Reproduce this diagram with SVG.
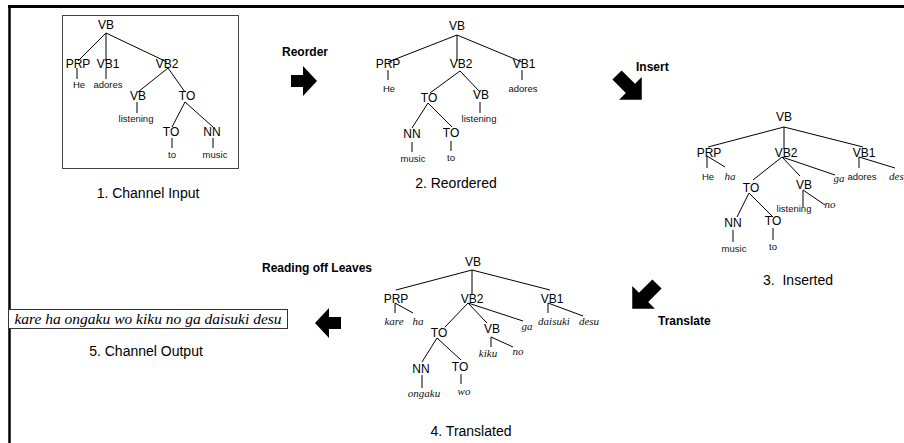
<svg xmlns="http://www.w3.org/2000/svg" width="904" height="443" viewBox="0 0 904 443">
<style>
.n{font-family:"Liberation Sans",Arial,sans-serif;font-size:12px;text-anchor:middle;fill:#000}
.w{font-family:"Liberation Sans Narrow","Liberation Sans",Arial,sans-serif;font-size:9.5px;text-anchor:middle;fill:#111}
.j{font-family:"Liberation Serif","Times New Roman",serif;font-style:italic;font-size:11px;text-anchor:middle;fill:#111}
.b{font-family:"Liberation Sans",Arial,sans-serif;font-weight:bold;font-size:12px;fill:#000}
.c{font-family:"Liberation Sans",Arial,sans-serif;font-size:14px;text-anchor:middle;fill:#000}
.e{stroke:#000;stroke-width:1;fill:none}
</style>
<defs>
<path id="harrow" d="M0,-6 H12 V-15 L26,0 L12,15 V6 H0 Z" fill="#000"/>
<path id="darrow" d="M0,-6.5 H19 V-16 L35,0 L19,16 V6.5 H0 Z" fill="#000"/>
</defs>
<rect width="904" height="443" fill="#fff"/>
<g id="frame">
<line x1="8" y1="6.5" x2="904" y2="6.5" stroke="#000" stroke-width="3"/>
<line x1="9.5" y1="5" x2="9.5" y2="443" stroke="#000" stroke-width="2.5"/>
</g>

<g id="tree1">
<rect x="62.5" y="15.5" width="176" height="153" fill="none" stroke="#444" stroke-width="1"/>
<g class="e">
<path d="M106,33 L78,61 M106,33 V61 M106,33 L167,62"/>
<path d="M77,68 V79 M106,68 V79"/>
<path d="M168,68 L138,92 M168,68 L185,92"/>
<path d="M137,102 V113"/>
<path d="M185,102 L172,127 M185,102 L213,127"/>
<path d="M172,138 V148 M213,138 V148"/>
</g>
<text id="t1-VB" class="n" x="106" y="29">VB</text>
<text id="t1-PRP" class="n" x="78" y="68">PRP</text>
<text id="t1-VB1" class="n" x="108" y="68">VB1</text>
<text id="t1-VB2" class="n" x="167" y="68">VB2</text>
<text id="t1-He" class="w" x="79" y="88">He</text>
<text id="t1-adores" class="w" x="108" y="88">adores</text>
<text id="t1-VBb" class="n" x="138" y="100">VB</text>
<text id="t1-TO" class="n" x="187" y="100">TO</text>
<text id="t1-listening" class="w" x="136" y="122">listening</text>
<text id="t1-TOb" class="n" x="171" y="136">TO</text>
<text id="t1-NN" class="n" x="212" y="136">NN</text>
<text id="t1-to" class="w" x="172" y="158">to</text>
<text id="t1-music" class="w" x="215" y="158">music</text>
<text id="cap1" class="c" x="148" y="198">1. Channel Input</text>
</g>

<g id="reorder">
<text class="b" x="282" y="56">Reorder</text>
<use href="#harrow" x="0" y="0" transform="translate(291,81)"/>
</g>

<g id="tree2">
<g class="e">
<path d="M457,35 L388,62 M457,35 V61 M457,35 L522,62"/>
<path d="M388,70 V80 M522,70 V80"/>
<path d="M460,71 L430,93 M460,71 L480,92"/>
<path d="M480,102 V113"/>
<path d="M428,103 L412,128 M428,103 L452,127"/>
<path d="M412,142 V152 M451,141 V151"/>
</g>
<text id="t2-VB" class="n" x="457" y="30">VB</text>
<text id="t2-PRP" class="n" x="388" y="68">PRP</text>
<text id="t2-VB2" class="n" x="461" y="68">VB2</text>
<text id="t2-VB1" class="n" x="524" y="68">VB1</text>
<text id="t2-He" class="w" x="389" y="92">He</text>
<text id="t2-adores" class="w" x="523" y="92">adores</text>
<text id="t2-TO" class="n" x="429" y="102">TO</text>
<text id="t2-VB" class="n" x="481" y="99">VB</text>
<text id="t2-listening" class="w" x="479" y="122">listening</text>
<text id="t2-NN" class="n" x="412" y="138">NN</text>
<text id="t2-TOb" class="n" x="451" y="137">TO</text>
<text id="t2-music" class="w" x="413" y="162">music</text>
<text id="t2-to" class="w" x="451" y="161">to</text>
<text id="cap2" class="c" x="456" y="188">2. Reordered</text>
</g>

<g id="insert">
<text class="b" x="636" y="71">Insert</text>
<use href="#darrow" transform="translate(617,75) rotate(45)"/>
</g>

<g id="tree3">
<g class="e">
<path d="M784,127 L708,147 M784,127 V149 M784,127 L863,147"/>
<path d="M707,156 V168 M707,156 L725,167"/>
<path d="M782,157 L753,180 M782,157 L800,176 M782,157 L835,175"/>
<path d="M859,157 V168 M859,157 L895,168"/>
<path d="M803,190 V207 M803,190 L825,205"/>
<path d="M749,193 L737,217 M749,193 L773,217"/>
<path d="M733,230 V242 M773,228 V240"/>
</g>
<text id="t3-VB" class="n" x="784" y="121">VB</text>
<text id="t3-PRP" class="n" x="709" y="157">PRP</text>
<text id="t3-VB2" class="n" x="786" y="157">VB2</text>
<text id="t3-VB1" class="n" x="864" y="157">VB1</text>
<text id="t3-He" class="w" x="708" y="180">He</text>
<text id="t3-ha" class="j" x="730" y="180">ha</text>
<text id="t3-TO" class="n" x="751" y="192">TO</text>
<text id="t3-VBb" class="n" x="804" y="189">VB</text>
<text id="t3-ga" class="j" x="839" y="182">ga</text>
<text id="t3-adores" class="w" x="862" y="180">adores</text>
<text id="t3-desu" class="j" x="889" y="180" style="text-anchor:start">desu</text>
<text id="t3-listening" class="w" x="794" y="212">listening</text>
<text id="t3-no" class="j" x="830" y="208">no</text>
<text id="t3-NN" class="n" x="733" y="227">NN</text>
<text id="t3-TOb" class="n" x="773" y="225">TO</text>
<text id="t3-music" class="w" x="734" y="252">music</text>
<text id="t3-to" class="w" x="773" y="250">to</text>
<text id="cap3" class="c" x="763" y="285" style="text-anchor:start;white-space:pre">3.  Inserted</text>
</g>

<g id="translate">
<use href="#darrow" transform="translate(657,284) rotate(135)"/>
<text class="b" x="658" y="325">Translate</text>
</g>

<g id="tree4">
<g class="e">
<path d="M472,270 L396,290 M472,270 V295 M472,270 L550,290"/>
<path d="M395,303 V313 M395,303 L413,313"/>
<path d="M468,303 L445,327 M468,303 L487,323 M468,303 L523,321"/>
<path d="M548,303 V313 M548,303 L583,316"/>
<path d="M491,337 V347 M491,337 L513,347"/>
<path d="M437,338 L422,362 M437,338 L461,360"/>
<path d="M422,375 V388 M461,374 V384"/>
</g>
<text id="t4-VB" class="n" x="473" y="266">VB</text>
<text id="t4-PRP" class="n" x="396" y="303">PRP</text>
<text id="t4-VB2" class="n" x="472" y="303">VB2</text>
<text id="t4-VB1" class="n" x="552" y="303">VB1</text>
<text id="t4-kare" class="j" x="394" y="325">kare</text>
<text id="t4-ha" class="j" x="418" y="325">ha</text>
<text id="t4-TO" class="n" x="439" y="337">TO</text>
<text id="t4-VBb" class="n" x="492" y="333">VB</text>
<text id="t4-ga" class="j" x="527" y="330">ga</text>
<text id="t4-daisuki" class="j" x="554" y="325">daisuki</text>
<text id="t4-desu" class="j" x="589" y="325">desu</text>
<text id="t4-kiku" class="j" x="488" y="357">kiku</text>
<text id="t4-no" class="j" x="518" y="355">no</text>
<text id="t4-NN" class="n" x="421" y="373">NN</text>
<text id="t4-TOb" class="n" x="460" y="371">TO</text>
<text id="t4-ongaku" class="j" x="424" y="397">ongaku</text>
<text id="t4-wo" class="j" x="464" y="395">wo</text>
<text id="cap4" class="c" x="471" y="436">4. Translated</text>
</g>

<g id="reading">
<text class="b" x="262" y="272">Reading off Leaves</text>
<use href="#harrow" transform="translate(341,323) rotate(180)"/>
</g>

<g id="output">
<rect x="8.5" y="309.5" width="279" height="19" fill="#fff" stroke="#333" stroke-width="1"/>
<text x="148" y="324" style="font-family:'Liberation Serif','Times New Roman',serif;font-style:italic;font-size:15.5px;text-anchor:middle">kare ha ongaku wo kiku no ga daisuki desu</text>
<text id="cap5" class="c" x="146" y="356">5. Channel Output</text>
</g>
</svg>
